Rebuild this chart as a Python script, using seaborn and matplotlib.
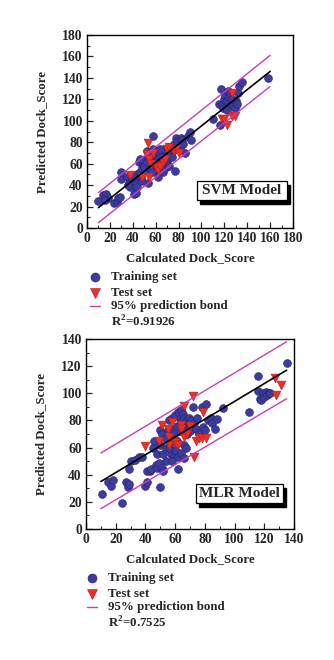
import matplotlib
matplotlib.use("Agg")
import matplotlib.pyplot as plt
import seaborn as sns
import pandas as pd
from matplotlib.patches import Rectangle
from matplotlib.lines import Line2D

# ---------------- data ----------------
svm_train = [(10,25),(14,31),(17,32),(18,28),(16,26),(24,23),(26,24),(27,28),(29,29),(30,46),(30,52),
             (35,48),(37,42),(38,38),(40,40),(41,32),(43,33),(42,44),(44,50),(45,62),(46,52),(47,48),
             (48,56),(49,60),(50,58),(51,64),(52,72),(53,42),(54,52),(55,66),(56,70),(57,60),(58,86),
             (58,74),(59,62),(60,68),(60,54),(61,72),(62,64),(63,58),(64,70),(65,66),(66,52),(66,60),
             (67,74),(68,68),(69,62),(70,72),(71,64),(72,76),(73,70),(74,66),(75,74),(76,78),(77,53),
             (78,84),(79,80),(80,76),(81,74),(82,84),(83,82),(84,78),(86,70),(88,86),(90,90),(91,82),
             (110,102),(115,116),(116,96),(117,130),(118,116),(119,112),(120,120),(121,124),(122,118),
             (122,110),(123,128),(124,122),(125,126),(126,116),(127,120),(128,114),(129,112),(130,118),
             (131,116),(132,126),(133,132),(135,136),(158,140),(40,48),(48,44),(55,56),(62,48),(46,64),
             (68,56),(70,60),(57,52),(52,62),(64,74),(72,58),(44,38),(36,40)]
svm_test = [(38,49),(48,48),(53,79),(52,69),(54,64),(54,48),(56,60),(58,70),(60,57),(62,54),(64,58),
            (66,62),(68,64),(70,74),(72,76),(76,72),(78,74),(80,70),(118,102),(120,102),(122,96),
            (127,104),(129,104),(127,126)]
svm_fit_x = [10, 160]
svm_fit_y = [19, 146]
svm_upper_y = [33, 161]
svm_lower_y = [5, 132]
svm_r2 = "0.91926"

mlr_train = [(11,26),(15,35),(17,32),(18,36),(24,19),(27,35),(28,31),(29,33),(29,44),(30,50),(33,51),
             (36,53),(38,53),(40,32),(41,35),(41,43),(43,43),(44,44),(45,60),(47,47),(48,45),(48,55),
             (49,49),(50,31),(50,73),(50,62),(51,70),(51,45),(52,55),(52,43),(53,67),(54,50),(55,73),
             (56,80),(57,74),(57,55),(58,64),(58,82),(59,53),(59,70),(60,58),(60,84),(61,76),(61,65),
             (62,86),(62,44),(62,53),(63,81),(63,72),(64,88),(64,79),(65,74),(65,85),(66,82),(66,62),
             (67,60),(67,78),(68,80),(68,70),(69,82),(70,76),(70,72),(71,80),(72,90),(73,78),(74,74),
             (75,82),(76,70),(78,90),(79,75),(80,73),(81,92),(82,80),(84,82),(85,78),(87,74),(88,81),
             (92,89),(110,86),(116,113),(116,102),(117,96),(118,95),(119,100),(120,97),(121,101),
             (122,99),(123,100),(124,100),(135,122),(46,65),(54,60),(56,60),(64,56),(66,52),(58,50)]
mlr_test = [(40,61),(49,65),(51,77),(55,74),(56,68),(56,62),(58,79),(59,65),(60,64),(62,62),(64,77),
            (64,74),(66,91),(66,68),(68,70),(70,76),(72,98),(73,53),(74,65),(76,67),(78,67),(79,86),
            (81,67),(127,111),(128,99),(131,106)]
mlr_fit_x = [10, 135]
mlr_fit_y = [35, 117]
mlr_upper_y = [56, 138]
mlr_lower_y = [15, 96]
mlr_r2 = "0.7525"

xlabel = "Calculated Dock_Score"
ylabel = "Predicted Dock_Score"
legend_labels = ["Training set", "Test set", "95% prediction bond"]

# ---------------- style ----------------
sns.set_theme(style="white")
plt.rcParams['font.family'] = ['Liberation Serif', 'DejaVu Serif']
plt.rcParams['font.weight'] = 'bold'
plt.rcParams['mathtext.fontset'] = 'custom'
plt.rcParams['mathtext.rm'] = 'Liberation Serif:bold'

BLUE = '#3d3b9e'
BLUE_E = '#23216e'
RED = '#ec2f26'
RED_E = '#b81a14'
MAG = '#c83cc0'

fig = plt.figure(figsize=(3.34, 6.6), dpi=100)

def panel(rect, train, test, fx, fy, fu, fl, lim, label, box):
    ax = fig.add_axes(rect)
    dtr = pd.DataFrame(train, columns=['x', 'y'])
    dte = pd.DataFrame(test, columns=['x', 'y'])
    sns.scatterplot(data=dtr, x='x', y='y', ax=ax, marker='o', s=32, color=BLUE,
                    edgecolor=BLUE_E, linewidth=0.4, zorder=3)
    sns.scatterplot(data=dte, x='x', y='y', ax=ax, marker='v', s=40, color=RED,
                    edgecolor=RED_E, linewidth=0.4, zorder=4)
    ax.plot(fx, fu, color=MAG, lw=1.0, zorder=5)
    ax.plot(fx, fl, color=MAG, lw=1.0, zorder=5)
    ax.plot(fx, fy, color='black', lw=1.2, zorder=6)
    ax.set_xlim(0, lim)
    ax.set_ylim(0, lim)
    ticks = list(range(0, lim + 1, 20))
    ax.set_xticks(ticks)
    ax.set_yticks(ticks)
    ax.set_xticks(list(range(10, lim, 20)), minor=True)
    ax.set_yticks(list(range(10, lim, 20)), minor=True)
    ax.tick_params(which='both', direction='in', bottom=True, left=True, top=False, right=False,
                   labelsize=9.8, pad=3)
    ax.tick_params(which='major', length=4, width=0.9)
    ax.tick_params(which='minor', length=2, width=0.8)
    for lab in ax.get_xticklabels() + ax.get_yticklabels():
        lab.set_fontweight('bold')
    for s in ax.spines.values():
        s.set_color('black')
        s.set_linewidth(1.0)
    ax.set_xlabel(xlabel, fontsize=9.3, fontweight='bold', labelpad=5)
    ax.set_ylabel(ylabel, fontsize=9.3, fontweight='bold', labelpad=10)
    ax.grid(False)
    # model box with shadow
    x0, x1, y0, y1 = box
    ax.add_patch(Rectangle((x0 + 0.013, y0 - 0.02), x1 - x0, y1 - y0, transform=ax.transAxes,
                           facecolor='black', edgecolor='black', zorder=7))
    ax.add_patch(Rectangle((x0, y0), x1 - x0, y1 - y0, transform=ax.transAxes,
                           facecolor='white', edgecolor='black', lw=0.9, zorder=8))
    ax.text((x0 + x1) / 2, (y0 + y1) / 2, label, transform=ax.transAxes, ha='center', va='center',
            fontsize=11, fontweight='bold', zorder=9)
    return ax

ax1 = panel([87/334, 1 - 228/660, 206/334, 193/660], svm_train, svm_test,
            svm_fit_x, svm_fit_y, svm_upper_y, svm_lower_y, 180, "SVM Model",
            (0.534, 0.971, 0.145, 0.2435))
ax2 = panel([86/334, 1 - 529/660, 208/334, 190/660], mlr_train, mlr_test,
            mlr_fit_x, mlr_fit_y, mlr_upper_y, mlr_lower_y, 140, "MLR Model",
            (0.529, 0.947, 0.137, 0.237))

def legend_block(xm, ys, r2):
    W, H = 334, 660
    def fx(px): return px / W
    def fy(py): return 1 - py / H
    fig.add_artist(Line2D([fx(xm)], [fy(ys[0])], marker='o', ms=6.5, color=BLUE,
                          markeredgecolor=BLUE_E, mew=0.4, transform=fig.transFigure))
    fig.add_artist(Line2D([fx(xm)], [fy(ys[1])], marker='v', ms=7, color=RED,
                          markeredgecolor=RED_E, mew=0.4, transform=fig.transFigure))
    fig.add_artist(Line2D([fx(xm - 5), fx(xm + 5)], [fy(ys[2]), fy(ys[2])], color=MAG, lw=1.0,
                          transform=fig.transFigure))
    for lab, y in zip(legend_labels, ys[:3]):
        fig.text(fx(xm + 16), fy(y), lab, ha='left', va='center', fontsize=9.3, fontweight='bold')
    fig.text(fx(xm + 16), fy(ys[3]), r"R$^{2}$=" + r2, ha='left', va='center', fontsize=9.3,
             fontweight='bold')

legend_block(95, [277, 293, 306, 322], svm_r2)
legend_block(92, [578, 594, 607, 623], mlr_r2)

fig.savefig("out.png", dpi=100, facecolor='white')
